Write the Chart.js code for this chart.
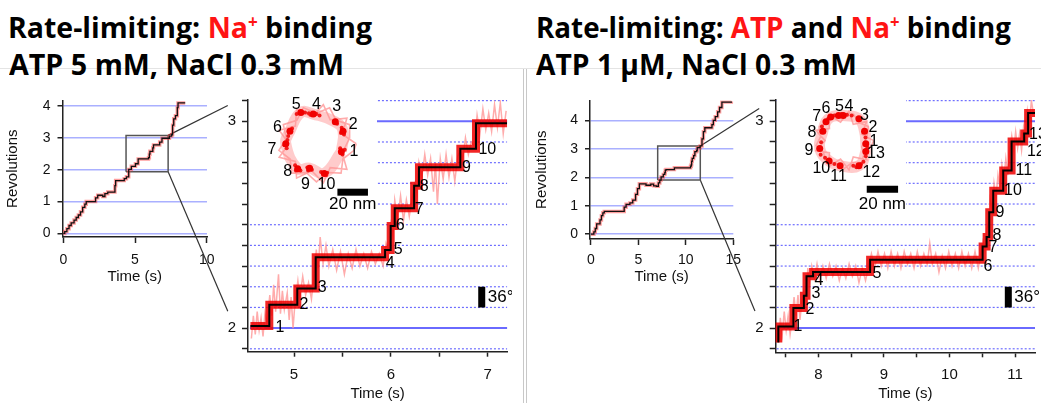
<!DOCTYPE html>
<html>
<head>
<meta charset="utf-8">
<title>Rate-limiting steps</title>
<script src="https://cdn.jsdelivr.net/npm/chart.js@4.4.0/dist/chart.umd.min.js"></script>
<style>
    body { margin: 0; background: #fff; }
    #page { position: relative; width: 1041px; height: 403px; overflow: hidden; background: #fff; }
    canvas { position: absolute; }
    .title {
        position: absolute; font-family: "Open Sans", "Noto Sans", sans-serif; font-weight: 700;
        font-size: 29px; line-height: 29px; white-space: nowrap; color: #000; transform-origin: 0 0;
    }
    .red { color: #ff1414; }
    sup { font-size: 0.6em; vertical-align: 0.55em; line-height: 0; }
    .hline { position: absolute; left: 0; top: 68px; width: 1041px; height: 1px; background: #e4e4e4; }
    .vline { position: absolute; top: 69px; width: 1px; height: 334px; background: #c8c8c8; }
</style>
</head>
<body>
<div id="page">
    <div class="hline"></div>
    <div class="vline" style="left:523px"></div>
    <div class="vline" style="left:526px"></div>

    <div class="title" style="left:8px;top:12px" data-w="364">Rate-limiting: <span class="red">Na<sup>+</sup></span> binding</div>
    <div class="title" style="left:9px;top:49px" data-w="335">ATP 5 mM, NaCl 0.3 mM</div>
    <div class="title" style="left:536px;top:12px" data-w="475">Rate-limiting: <span class="red">ATP</span> and <span class="red">Na<sup>+</sup></span> binding</div>
    <div class="title" style="left:536px;top:49px" data-w="321">ATP 1 μM, NaCl 0.3 mM</div>

    <canvas id="overview-a" width="240" height="235" style="left:0px;top:85px"></canvas>
    <canvas id="zoom-a" width="312" height="318" style="left:200px;top:85px"></canvas>
    <canvas id="inset-a" width="127" height="130" style="left:250px;top:85px;background:#fff"></canvas>

    <canvas id="overview-b" width="240" height="235" style="left:530px;top:85px"></canvas>
    <canvas id="zoom-b" width="313" height="318" style="left:728px;top:85px"></canvas>
    <canvas id="inset-b" width="129" height="130" style="left:777px;top:85px;background:#fff"></canvas>
</div>

<script>
// ---------- data: left panel (ATP 5 mM) ----------
// step traces are [time (s), revolutions]: the level changes at that time
const overviewStepsA = [[0,0],[0.1,0.06],[0.25,0.15],[0.4,0.25],[0.55,0.33],[0.75,0.42],[0.9,0.5],[1.05,0.58],
    [1.2,0.68],[1.35,0.82],[1.5,0.92],[1.6,1.0],[2.25,1.12],[2.4,1.2],[2.75,1.16],[2.9,1.25],[3.1,1.3],[3.6,1.5],
    [3.65,1.66],[4.25,1.72],[4.4,1.78],[4.56,2.01],[4.745,2.11],[5.03,2.19],[5.22,2.34],[5.94,2.38],[6.0,2.49],
    [6.04,2.58],[6.24,2.69],[6.29,2.78],[6.72,2.87],[6.88,2.99],[7.4,3.06],[7.55,3.1],[7.62,3.4],[7.7,3.6],
    [7.82,3.7],[7.95,3.95],[8.0,4.1],[8.5,4.1]];
const boxA = [[4.375,1.94],[7.31,1.94],[7.31,3.08],[4.375,3.08],[4.375,1.94]];
const connectorsA = [[[7.31,3.08],[11.47,4.02]], [[7.31,1.94],[11.47,-2.445]]];

const zoomStepsA = [[4.55,2.01],[4.745,2.113],[5.034,2.192],[5.224,2.343],[5.94,2.378],[5.998,2.494],[6.04,2.58],
    [6.24,2.688],[6.29,2.778],[6.717,2.867],[6.879,2.99],[7.2,2.99]];
const noiseA = [[4.56,1.95],[4.58,2.06],[4.60,1.97],[4.62,2.08],[4.64,1.99],[4.66,2.05],[4.68,1.96],[4.70,2.07],
    [4.72,2.02],[4.75,2.16],[4.77,2.06],[4.79,2.21],[4.81,2.08],[4.84,2.26],[4.86,2.07],[4.88,2.18],[4.90,2.09],
    [4.93,2.17],[4.95,2.04],[4.97,2.15],[4.99,2.0],[5.01,2.12],[5.04,2.23],[5.06,2.15],[5.09,2.25],[5.12,2.16],
    [5.15,2.22],[5.18,2.14],[5.21,2.27],[5.23,2.38],[5.25,2.29],[5.27,2.44],[5.30,2.31],[5.33,2.40],[5.36,2.30],
    [5.40,2.38],[5.44,2.28],[5.48,2.37],[5.52,2.26],[5.56,2.36],[5.60,2.29],[5.64,2.38],[5.68,2.30],[5.72,2.36],
    [5.76,2.29],[5.80,2.37],[5.84,2.31],[5.88,2.36],[5.92,2.30],[5.95,2.41],[5.98,2.37],[6.00,2.50],[6.02,2.45],
    [6.04,2.62],[6.07,2.53],[6.10,2.64],[6.13,2.52],[6.16,2.62],[6.19,2.54],[6.22,2.63],[6.25,2.70],[6.27,2.65],
    [6.29,2.80],[6.32,2.73],[6.35,2.84],[6.38,2.74],[6.41,2.82],[6.44,2.66],[6.46,2.80],[6.48,2.60],[6.51,2.82],
    [6.54,2.72],[6.57,2.84],[6.60,2.73],[6.63,2.82],[6.66,2.71],[6.69,2.83],[6.72,2.86],[6.74,2.81],[6.77,2.92],
    [6.80,2.84],[6.83,2.90],[6.86,2.88],[6.89,3.03],[6.92,2.94],[6.95,3.06],[6.98,2.96],[7.01,3.04],[7.04,2.95],
    [7.07,3.08],[7.10,2.97],[7.13,3.09],[7.16,2.94],[7.19,3.05]];
const stepLabelsA = [[4.855,2.003,'1'],[5.103,2.113,'2'],[5.29,2.194,'3'],[5.993,2.313,'4'],[6.075,2.38,'5'],
    [6.096,2.494,'6'],[6.293,2.575,'7'],[6.344,2.684,'8'],[6.779,2.775,'9'],[6.996,2.865,'10']];
const angleBarA = [[6.938,2.1],[6.938,2.2]];
const angleTextA = [[7.0,2.147,'36°']];

const clustersA = [[16.3,-5.2],[17.4,8.2],[12.3,14.3],[-2.1,19.4],[-10.2,20.4],[-17.4,8.2],[-20.1,0],[-12.3,-16.4],
    [-4.5,-16],[5.1,-19.4]];
const specksA = [[15.5,-3],[17,-7],[18,6],[16.5,10.5],[13.5,13],[0,19.5],[2,18.5],[-5,20],[-7.5,20.5],[-13,19.5],
    [-16,10],[-18.5,5],[-19.5,-3],[-19,2.5],[-14,-14],[-10.5,-17.5],[-6,-15.5],[-3,-17],[3,-18.5],[7,-19],
    [-11,21],[-4,19],[18.5,-4],[-21,-1],[-13.5,-17.5],[-5.5,-17.5],[6.5,-20.5],[16,7]];
const ringA = [[26,0],[16.9,6.2],[19.9,16.7],[9,15.6],[4.5,25.6],[-3.1,17.7],[-13,22.5],[-13.8,11.6],[-24.4,8.9],
    [-18,0],[-24.4,-8.9],[-13.8,-11.6],[-13,-22.5],[-3.1,-17.7],[4.5,-25.6],[9,-15.6],[19.9,-16.7],[16.9,-6.2],
    [21.7,3.8],[21.7,12.5],[12.9,15.3],[8.6,23.5],[0,20],[-8.6,23.5],[-12.9,15.3],[-21.7,12.5],[-19.7,3.5],
    [-24.6,-4.3],[-17.3,-10],[-16.1,-19.2],[-6.8,-18.8],[0,-25],[6.8,-18.8],[16.1,-19.2],[17.3,-10],[24.6,-4.3],[26,0]];
const ringLabelsA = [[24.5,-5.2,'1'],[24.1,12.3,'2'],[13.3,24.1,'3'],[0,25.5,'4'],[-13.3,25.5,'5'],[-25.6,10.6,'6'],
    [-29.1,-3.7,'7'],[-18.8,-18,'8'],[-7.2,-27,'9'],[6.5,-26.6,'10']];
const scaleBarA = [[13.7,-31.7],[33.7,-31.7]];
const scaleTextA = [[23.7,-39.7,'20 nm']];

// ---------- data: right panel (ATP 1 uM) ----------
const overviewStepsB = [[0,0],[0.3,0.08],[0.45,0.2],[0.6,0.36],[0.95,0.5],[1.1,0.65],[1.25,0.75],[1.4,0.8],[3.5,0.95],
    [3.7,1.05],[4.1,1.1],[4.4,1.2],[4.7,1.4],[4.9,1.6],[5.1,1.77],[5.8,1.72],[6.3,1.76],[6.6,1.7],[6.9,1.68],[7.1,1.8],
    [7.25,1.9],[7.39,2.01],[7.62,2.1],[7.78,2.16],[7.83,2.25],[7.92,2.27],[8.79,2.33],[10.49,2.39],[10.57,2.44],
    [10.61,2.56],[10.67,2.66],[10.82,2.76],[10.95,2.9],[11.14,2.94],[11.2,3.04],[11.5,3.1],[11.7,3.35],[11.85,3.6],
    [12.0,3.74],[12.75,3.85],[12.9,4.0],[13.1,4.13],[13.35,4.3],[13.55,4.45],[13.8,4.64],[14.8,4.66]];
const boxB = [[7.03,1.9],[11.52,1.9],[11.52,3.1],[7.03,3.1],[7.03,1.9]];
const connectorsB = [[[11.52,3.1],[17.73,4.415]], [[11.52,1.9],[17.28,-2.7]]];

const zoomStepsB = [[7.39,1.93],[7.39,2.008],[7.62,2.097],[7.78,2.156],[7.82,2.251],[7.92,2.271],[8.79,2.33],
    [10.506,2.394],[10.567,2.441],[10.607,2.56],[10.668,2.664],[10.82,2.762],[10.948,2.902],[11.14,2.941],
    [11.2,3.04],[11.305,3.04]];
const noiseB = [[7.40,1.94],[7.42,2.05],[7.45,1.97],[7.48,2.08],[7.51,1.99],[7.54,2.06],[7.57,1.97],[7.60,2.04],
    [7.63,2.15],[7.66,2.06],[7.69,2.16],[7.72,2.04],[7.75,2.13],[7.78,2.18],[7.81,2.14],[7.84,2.29],[7.87,2.22],
    [7.90,2.30],[7.94,2.24],[7.98,2.31],[8.02,2.23],[8.07,2.30],[8.12,2.24],[8.17,2.31],[8.22,2.25],[8.27,2.30],
    [8.32,2.23],[8.37,2.29],[8.42,2.24],[8.47,2.31],[8.52,2.25],[8.57,2.30],[8.62,2.22],[8.67,2.29],[8.72,2.23],
    [8.77,2.30],[8.81,2.36],[8.86,2.29],[8.91,2.37],[8.96,2.30],[9.01,2.36],[9.06,2.29],[9.11,2.37],[9.16,2.30],
    [9.21,2.36],[9.26,2.29],[9.31,2.37],[9.36,2.31],[9.41,2.36],[9.46,2.29],[9.51,2.37],[9.56,2.30],[9.61,2.36],
    [9.66,2.31],[9.70,2.41],[9.74,2.31],[9.79,2.36],[9.84,2.27],[9.89,2.35],[9.94,2.29],[9.99,2.37],[10.04,2.30],
    [10.09,2.36],[10.14,2.29],[10.19,2.37],[10.24,2.30],[10.29,2.36],[10.34,2.29],[10.39,2.37],[10.44,2.29],
    [10.48,2.36],[10.51,2.42],[10.54,2.38],[10.57,2.48],[10.60,2.51],[10.62,2.62],[10.65,2.57],[10.68,2.70],
    [10.71,2.63],[10.74,2.74],[10.77,2.68],[10.80,2.79],[10.83,2.72],[10.86,2.82],[10.89,2.74],[10.92,2.86],
    [10.95,2.93],[10.98,2.86],[11.01,2.95],[11.04,2.87],[11.07,2.94],[11.10,2.86],[11.13,2.97],[11.16,2.90],
    [11.19,3.05],[11.22,2.99],[11.25,3.10],[11.28,3.04]];
const stepLabelsB = [[7.69,2.008,'1'],[7.873,2.089,'2'],[7.965,2.165,'3'],[8.011,2.232,'4'],[8.895,2.265,'5'],
    [10.587,2.299,'6'],[10.663,2.389,'7'],[10.724,2.446,'8'],[10.77,2.56,'9'],[10.968,2.665,'10'],
    [11.135,2.76,'11'],[11.318,2.855,'12'],[11.349,2.936,'13']];
const angleBarB = [[10.898,2.1],[10.898,2.2]];
const angleTextB = [[10.99,2.147,'36°']];

const clustersB = [[14,-2],[13.2,6],[9.6,14],[-0.4,16],[-3.4,16],[-8.4,15],[-11.4,12],[-13.4,6],[-15.4,-5],
    [-9.4,-13],[-2.4,-16],[9.6,-16],[14,-7]];
const specksB = [[2,16.5],[-6,16],[5,16],[14,-10],[12.5,-13.5],[13.8,2],[-14.5,-1],[-14.8,-9],[-12,-11],[-6,-15],
    [6,-16],[11,-15],[-1.5,17],[-10,14],[-14,9],[8,-17],[15,-4.5]];
const ringB = [[19,0],[11.3,4.1],[14.6,12.2],[6,10.4],[3.3,18.7],[-2.1,11.8],[-9.5,16.5],[-9.2,7.7],[-17.9,6.5],
    [-12,0],[-17.9,-6.5],[-9.2,-7.7],[-9.5,-16.5],[-2.1,-11.8],[3.3,-18.7],[6,-10.4],[14.6,-12.2],[11.3,-4.1],
    [14.8,2.6],[15.6,9],[9.6,11.5],[6.2,16.9],[0,15],[-6.2,16.9],[-9.6,11.5],[-15.6,9],[-14.8,2.6],[-17.7,-3.1],
    [-13,-7.5],[-11.6,-13.8],[-5.1,-14.1],[0,-18],[5.1,-14.1],[11.6,-13.8],[13,-7.5],[17.7,-3.1],[19,0]];
const ringLabelsB = [[19.2,-0.4,'1'],[18.6,8,'2'],[13.2,16,'3'],[3.2,21.6,'4'],[-2.8,21.6,'5'],[-11.4,20.4,'6'],
    [-17.4,15,'7'],[-20.4,5,'8'],[-22.3,-6.4,'9'],[-14.4,-18,'10'],[-3.4,-23,'11'],[17.5,-20.5,'12'],[20.5,-8.4,'13']];
const scaleBarB = [[14.6,-31.1],[34.6,-31.1]];
const scaleTextB = [[24.6,-40.9,'20 nm']];

// ---------- shared ticks / reference levels ----------
const overviewRevTicks = [0, 1, 2, 3, 4];
const overviewTimeTicksA = [0, 5, 10];
const overviewTimeTicksB = [0, 5, 10, 15];
const zoomRevTicks = [1.9, 2, 2.1, 2.2, 2.3, 2.4, 2.5, 2.6, 2.7, 2.8, 2.9, 3, 3.1];
const zoomTimeTicksA = [5, 5.5, 6, 6.5, 7];
const zoomTimeTicksB = [7.5, 8, 8.5, 9, 9.5, 10, 10.5, 11];
const refLevels = [1.9, 2, 2.1, 2.2, 2.3, 2.4, 2.5, 2.6, 2.7, 2.8, 2.9, 3, 3.1];

Chart.defaults.font.family = '"Liberation Sans", Arial, sans-serif';
Chart.defaults.color = '#111';
Chart.defaults.animation = false;
Chart.defaults.plugins.legend.display = false;
Chart.defaults.plugins.tooltip.enabled = false;

// draws text items given in data coordinates
const textMarks = {
    id: 'textMarks',
    afterDatasetsDraw(chart, args, opts) {
        const ctx = chart.ctx;
        const xs = chart.scales.x, ys = chart.scales.y;
        (opts.groups || []).forEach(g => {
            ctx.save();
            ctx.font = g.font;
            ctx.fillStyle = g.color || '#000';
            ctx.textAlign = g.align || 'center';
            ctx.textBaseline = 'middle';
            g.items.forEach(it => ctx.fillText(it[2], xs.getPixelForValue(it[0]), ys.getPixelForValue(it[1])));
            ctx.restore();
        });
    }
};

function lineSet(data, color, width, extra) {
    return Object.assign({ data: data, showLine: true, pointRadius: 0, borderColor: color, borderWidth: width }, extra || {});
}

// Overview: whole run with zoom box and connector lines
function initOverviewChart(id, cfg) {
    const ctx = document.getElementById(id);
    return new Chart(ctx.getContext('2d'), {
        type: 'scatter',
        data: {
            datasets: [
                lineSet(cfg.steps, '#111', 1.3, { stepped: 'before' }),
                lineSet(cfg.steps, 'rgba(255,60,60,0.5)', 3.5, { stepped: 'before' }),
                lineSet(cfg.box, '#555', 1.5),
                lineSet(cfg.connectors[0], '#333', 1.2, { clip: false }),
                lineSet(cfg.connectors[1], '#333', 1.2, { clip: false })
            ]
        },
        options: {
            responsive: false,
            layout: { padding: cfg.padding },
            scales: {
                x: {
                    type: 'linear', min: cfg.xMin, max: cfg.xMax,
                    afterFit: s => { s.height = cfg.xAxisH; },
                    afterBuildTicks: s => { s.ticks = cfg.xTicks.map(v => ({ value: v })); },
                    grid: { drawOnChartArea: false, tickLength: 6, tickColor: '#222', tickWidth: 1.5 },
                    border: { color: '#222', width: 1.5 },
                    ticks: { padding: cfg.xTickPad, autoSkip: false, maxRotation: 0, font: { size: 14 }, color: '#111' },
                    title: { display: true, text: 'Time (s)', font: { size: 15 }, color: '#111', padding: { top: 0, bottom: cfg.xTitlePad } }
                },
                y: {
                    type: 'linear', min: cfg.yMin, max: cfg.yMax,
                    afterFit: s => { s.width = cfg.yAxisW; },
                    afterBuildTicks: s => { s.ticks = overviewRevTicks.map(v => ({ value: v })); },
                    grid: { color: '#aab0ff', lineWidth: 1.5, tickLength: 5, tickColor: '#222', tickWidth: 1.5 },
                    border: { color: '#222', width: 1.5 },
                    ticks: { padding: 7, font: { size: 14 }, color: '#111' },
                    title: { display: true, text: 'Revolutions', font: { size: 15 }, color: '#111', padding: { top: cfg.yTitlePad, bottom: 0 } }
                }
            }
        }
    });
}

// Zoomed trace with 36 degree grid
function initZoomChart(id, cfg) {
    const ctx = document.getElementById(id);
    const refSets = refLevels.map(v => lineSet([[cfg.refStart, v], [cfg.xMax, v]],
        Number.isInteger(v) ? '#6a6aff' : 'rgba(60,60,255,0.75)', Number.isInteger(v) ? 2 : 1.2,
        { borderDash: Number.isInteger(v) ? [] : [2, 2] }));
    return new Chart(ctx.getContext('2d'), {
        type: 'scatter',
        data: {
            datasets: [
                // first dataset is drawn on top
                lineSet(cfg.bar, '#000', 7, { borderCapStyle: 'butt' }),
                lineSet(cfg.steps, '#000', 2, { stepped: 'before' }),
                lineSet(cfg.steps, 'rgba(238,0,0,0.85)', 8, { stepped: 'before' }),
                lineSet(cfg.noise, 'rgba(255,150,150,0.8)', 1.5),
                ...refSets
            ]
        },
        options: {
            responsive: false,
            layout: { padding: cfg.padding },
            plugins: {
                textMarks: { groups: [
                    { font: '16px "Liberation Sans", Arial, sans-serif', items: cfg.labels },
                    { font: '17px "Liberation Sans", Arial, sans-serif', align: 'left', items: cfg.angleText }
                ] }
            },
            scales: {
                x: {
                    type: 'linear', min: cfg.xMin, max: cfg.xMax,
                    afterFit: s => { s.height = cfg.xAxisH; },
                    afterBuildTicks: s => { s.ticks = cfg.xTicks.map(v => ({ value: v })); },
                    grid: { drawOnChartArea: false, tickLength: 5, tickColor: '#222', tickWidth: 1.5 },
                    border: { color: '#222', width: 1.5 },
                    ticks: {
                        padding: 9, autoSkip: false, maxRotation: 0, font: { size: 15 }, color: '#111',
                        callback: v => Number.isInteger(v) ? v : ''
                    },
                    title: { display: true, text: 'Time (s)', font: { size: 15 }, color: '#111', padding: { top: 0, bottom: 0 } }
                },
                y: {
                    type: 'linear', min: cfg.yMin, max: cfg.yMax,
                    afterFit: s => { s.width = cfg.yAxisW; },
                    afterBuildTicks: s => { s.ticks = zoomRevTicks.map(v => ({ value: v })); },
                    grid: { drawOnChartArea: false, tickLength: 6, tickColor: '#222', tickWidth: 1.5 },
                    border: { color: '#222', width: 1.5 },
                    ticks: {
                        padding: 6, autoSkip: false, font: { size: 15 }, color: '#111',
                        callback: v => Number.isInteger(v) ? v : ''
                    }
                }
            }
        },
        plugins: [textMarks]
    });
}

// Inset: centroid trajectory in nm
function initInsetChart(id, cfg) {
    const ctx = document.getElementById(id);
    return new Chart(ctx.getContext('2d'), {
        type: 'scatter',
        data: {
            datasets: [
                lineSet(cfg.scaleBar, '#000', 7, { borderCapStyle: 'butt' }),
                { data: cfg.clusters, pointRadius: 3.5, pointBackgroundColor: '#f00000', pointBorderWidth: 0 },
                { data: cfg.specks, pointRadius: 2, pointBackgroundColor: '#f21a1a', pointBorderWidth: 0 },
                lineSet(cfg.ring, 'rgba(255,150,150,0.8)', 1.6),
                lineSet(cfg.clusters.concat([cfg.clusters[0]]), 'rgba(255,185,185,0.75)', 11, { tension: 0.45 })
            ]
        },
        options: {
            responsive: false,
            layout: { padding: 0 },
            plugins: {
                textMarks: { groups: [
                    { font: '16px "Liberation Sans", Arial, sans-serif', items: cfg.labels },
                    { font: '17px "Liberation Sans", Arial, sans-serif', items: cfg.scaleText }
                ] }
            },
            scales: {
                x: { type: 'linear', display: false, min: cfg.xMin, max: cfg.xMax },
                y: { type: 'linear', display: false, min: cfg.yMin, max: cfg.yMax }
            }
        },
        plugins: [textMarks]
    });
}

initOverviewChart('overview-a', {
    steps: overviewStepsA, box: boxA, connectors: connectorsA,
    xMin: -0.056, xMax: 10.02, yMin: -0.112, yMax: 4.18, xTicks: overviewTimeTicksA,
    padding: { left: 0, top: 10, right: 33, bottom: 28 }, xAxisH: 55, yAxisW: 62.5,
    xTickPad: 9, xTitlePad: 6, yTitlePad: 4
});
initZoomChart('zoom-a', {
    steps: zoomStepsA, noise: noiseA, labels: stepLabelsA, bar: angleBarA, angleText: angleTextA,
    xMin: 4.525, xMax: 7.202, yMin: 1.886, yMax: 3.103, xTicks: zoomTimeTicksA, refStart: 4.545,
    padding: { left: 0, top: 10.7, right: 4.7, bottom: 0 }, xAxisH: 51.3, yAxisW: 48
});
initInsetChart('inset-a', {
    clusters: clustersA, specks: specksA, ring: ringA, labels: ringLabelsA, scaleBar: scaleBarA, scaleText: scaleTextA,
    xMin: -40.9, xMax: 37.0, yMin: -44.0, yMax: 35.8
});

initOverviewChart('overview-b', {
    steps: overviewStepsB, box: boxB, connectors: connectorsB,
    xMin: -0.105, xMax: 15.0, yMin: -0.169, yMax: 4.70, xTicks: overviewTimeTicksB,
    padding: { left: 0, top: 10, right: 36.7, bottom: 31 }, xAxisH: 50, yAxisW: 60,
    xTickPad: 7, xTitlePad: 3, yTitlePad: 3
});
initZoomChart('zoom-b', {
    steps: zoomStepsB, noise: noiseB, labels: stepLabelsB, bar: angleBarB, angleText: angleTextB,
    xMin: 7.35, xMax: 11.305, yMin: 1.883, yMax: 3.103, xTicks: zoomTimeTicksB, refStart: 7.365,
    padding: { left: 0, top: 10.7, right: 6, bottom: 0 }, xAxisH: 50.7, yAxisW: 47.7
});
initInsetChart('inset-b', {
    clusters: clustersB, specks: specksB, ring: ringB, labels: ringLabelsB, scaleBar: scaleBarB, scaleText: scaleTextB,
    xMin: -40.1, xMax: 37.1, yMin: -44.9, yMax: 32.9
});

// stretch title lines to the widths they have in the figure
document.querySelectorAll('.title').forEach(el => {
    const w = el.getBoundingClientRect().width;
    el.style.transform = 'scaleX(' + (el.dataset.w / w) + ')';
});
</script>
</body>
</html>
